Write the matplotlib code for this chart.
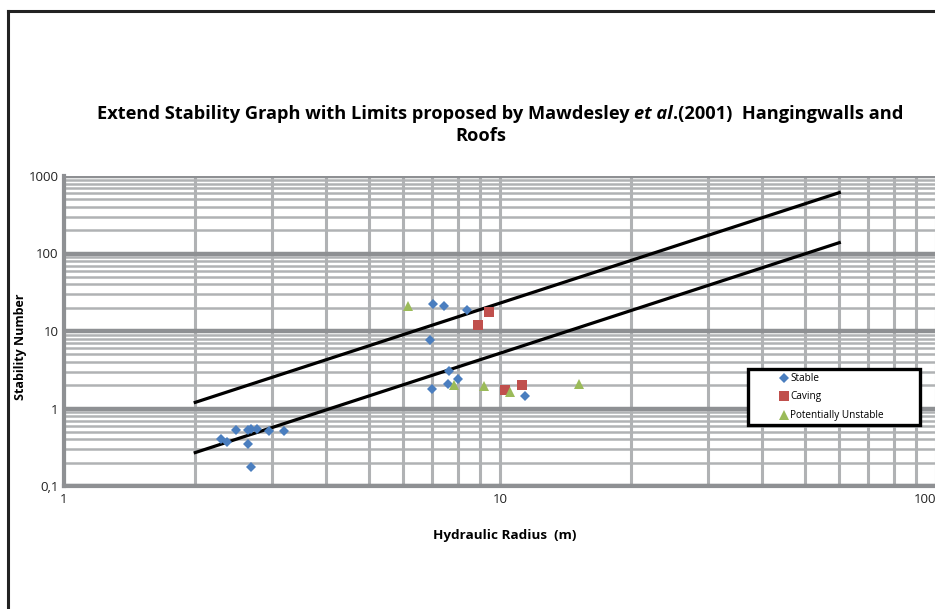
import matplotlib.pyplot as plt
from matplotlib.patches import Rectangle
from matplotlib.lines import Line2D

plt.rcParams['font.family'] = ['Open Sans', 'DejaVu Sans']

# data
stable_hr = [2.29, 2.37, 2.48, 2.64, 2.69, 2.77, 2.96, 3.19, 2.64, 2.68,
             7.03, 7.43, 8.39, 6.91, 7.65, 8.00, 7.61, 6.99, 11.41]
stable_n = [0.41, 0.37, 0.53, 0.53, 0.55, 0.54, 0.52, 0.52, 0.35, 0.175,
            22.4, 21.3, 18.4, 7.6, 3.03, 2.37, 2.08, 1.80, 1.47]
caving_hr = [9.42, 8.89, 10.28, 11.21]
caving_n = [17.5, 11.8, 1.72, 2.02]
unstable_hr = [6.14, 7.84, 9.18, 10.56, 15.15]
unstable_n = [21.3, 2.02, 1.94, 1.64, 2.08]

# Mawdesley limit lines
limit_hr = [2, 60]
upper_limit = [1.2, 610]
lower_limit = [0.27, 138]

yticks = [0.1, 1, 10, 100, 1000]
ylabels = ['0,1', '1', '10', '100', '1000']
xticks = [1, 10, 100]
xlabels = ['1', '10', '100']

W, H = 935, 609
fig = plt.figure(figsize=(W / 100, H / 100), dpi=100)

# outer chart frame (cropped at right / bottom)
fig.add_artist(Line2D([8 / W, 8 / W], [0, 1 - 11 / H], transform=fig.transFigure,
                      color='#222222', lw=2.2))
fig.add_artist(Line2D([8 / W, 1], [1 - 11 / H, 1 - 11 / H], transform=fig.transFigure,
                      color='#222222', lw=2.2))

ax = fig.add_axes([64 / W, 1 - 486 / H, 872 / W, 310 / H])
ax.set_xscale('log')
ax.set_yscale('log')
ax.set_xlim(1, 100)
ax.set_ylim(0.1, 1000)

ax.grid(True, which='minor', axis='y', color='#B0B2B4', lw=1.8, zorder=0)
ax.grid(True, which='major', axis='y', color='#8E9093', lw=3.2, zorder=0)
ax.grid(True, which='both', axis='x', color='#B0B2B4', lw=2.2, zorder=0)

for s in ['top', 'right']:
    ax.spines[s].set_visible(False)
for s in ['left', 'bottom']:
    ax.spines[s].set_color('#8E9093')
    ax.spines[s].set_linewidth(3)

ax.set_yticks(yticks)
ax.set_yticklabels(ylabels)
ax.set_xticks(xticks)
ax.set_xticklabels(xlabels)
ax.get_xticklabels()[-1].set_ha('right')
ax.tick_params(which='both', length=0)
ax.tick_params(axis='y', labelsize=9.5, pad=4, colors='#222222')
ax.tick_params(axis='x', labelsize=9.5, pad=5, colors='#222222')

ax.plot(limit_hr, upper_limit, color='black', lw=2.3, zorder=3)
ax.plot(limit_hr, lower_limit, color='black', lw=2.3, zorder=3)

ax.plot(stable_hr, stable_n, 'D', color='#4A7EBF', ms=4.8, mew=0, zorder=4, label='Stable')
ax.plot(caving_hr, caving_n, 's', color='#C0504D', ms=6.5, mew=0, zorder=4, label='Caving')
ax.plot(unstable_hr, unstable_n, '^', color='#9BBB59', ms=7, mew=0, zorder=4,
        label='Potentially Unstable')

fig.text(21 / W, 1 - 347 / H, 'Stability Number', fontsize=9, fontweight='bold',
         rotation=90, ha='center', va='center')
fig.text(505 / W, 1 - 535 / H, 'Hydraulic Radius  (m)', fontsize=9.7,
         fontweight='bold', ha='center', va='center')

# legend with its own frame
lx0, ly0, lx1, ly1 = 748, 369, 920, 425
ax.add_patch(Rectangle(((lx0 - 64) / 872, (486 - ly1) / 310), (lx1 - lx0) / 872,
                       (ly1 - ly0) / 310, transform=ax.transAxes, facecolor='white',
                       edgecolor='black', lw=2.4, zorder=5, clip_on=False))
leg = ax.legend(loc='upper left', bbox_to_anchor=((780 - 64) / 872, (486 - 373) / 310),
                frameon=False, fontsize=7.2, handlelength=0.8, handletextpad=0.2,
                labelspacing=0.75, borderaxespad=0, borderpad=0)
leg.set_zorder(6)

# title: bold, with "et al" bold italic, scaled to span x 97..903
fig.canvas.draw()
r = fig.canvas.get_renderer()
parts = [('Extend Stability Graph with Limits proposed by Mawdesley ', 'normal'),
         ('et al', 'italic'),
         ('.(2001)  Hangingwalls and', 'normal')]
fs = 11
ty = 1 - 114 / H
texts = [fig.text(0, ty, s, fontsize=fs, fontweight='bold', fontstyle=st,
                  va='center', ha='left') for s, st in parts]
total = sum(t.get_window_extent(r).width for t in texts)
fs = fs * 806 / total
for t in texts:
    t.set_fontsize(fs)
widths = [t.get_window_extent(r).width for t in texts]
x = 500 - sum(widths) / 2
for t, w in zip(texts, widths):
    t.set_x(x / W)
    x += w
fig.text(481 / W, 1 - 136 / H, 'Roofs', fontsize=fs, fontweight='bold',
         ha='center', va='center')

fig.savefig('out.png', dpi=100)
